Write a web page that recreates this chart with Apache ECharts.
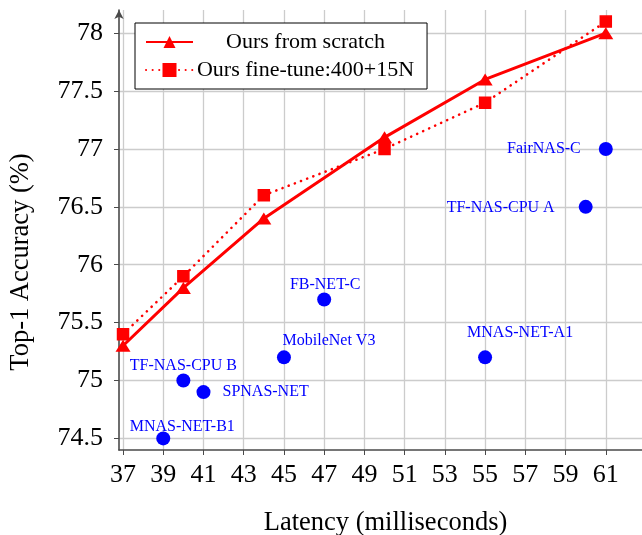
<!DOCTYPE html>
<html>
<head>
<meta charset="utf-8">
<script src="https://cdn.jsdelivr.net/npm/echarts@6/dist/echarts.min.js"></script>
<style>html,body{margin:0;padding:0;background:#fff}#c{width:642px;height:535px}</style>
</head>
<body>
<div id="c"></div>
<script>
// ---- data ----
const scratchX = [37, 40, 44, 50, 55, 61];
const scratchY = [75.3, 75.8, 76.4, 77.1, 77.6, 78.0];
const finetuneX = [37, 40, 44, 50, 55, 61];
const finetuneY = [75.4, 75.9, 76.6, 77.0, 77.4, 78.1];
const otherNames = ['MNAS-NET-B1', 'TF-NAS-CPU B', 'SPNAS-NET', 'MobileNet V3', 'FB-NET-C', 'MNAS-NET-A1', 'TF-NAS-CPU A', 'FairNAS-C'];
const otherX = [39, 40, 41, 45, 47, 55, 60, 61];
const otherY = [74.5, 75.0, 74.9, 75.2, 75.7, 75.2, 76.5, 77.0];
const xTicks = [37, 39, 41, 43, 45, 47, 49, 51, 53, 55, 57, 59, 61];
const yTicks = [74.5, 75, 75.5, 76, 76.5, 77, 77.5, 78];
const seriesNames = ['Ours from scratch', 'Ours fine-tune:400+15N'];

// ---- label placement (style only) ----
const labelPlace = {
  'MNAS-NET-B1':  {align: 'center', offset: [19, -12]},
  'TF-NAS-CPU B': {align: 'center', offset: [0, -15]},
  'SPNAS-NET':    {align: 'left',   offset: [19, 0]},
  'MobileNet V3': {align: 'center', offset: [45, -17]},
  'FB-NET-C':     {align: 'center', offset: [1, -15]},
  'MNAS-NET-A1':  {align: 'center', offset: [35, -25]},
  'TF-NAS-CPU A': {align: 'right',  offset: [-31, 1]},
  'FairNAS-C':    {align: 'right',  offset: [-25, 0]}
};

const serif = '"Liberation Serif", "DejaVu Serif", serif';
const red = '#ff0000';
const blue = '#0000ff';

const zip = (xs, ys) => xs.map((x, i) => [x, ys[i]]);

const chart = echarts.init(document.getElementById('c'), null, {renderer: 'canvas'});
chart.setOption({
  animation: false,
  backgroundColor: '#fff',
  grid: {left: 119, right: 0, top: 10, bottom: 85, containLabel: false, outerBoundsMode: 'none'},
  legend: {
    orient: 'vertical',
    left: 135, top: 23,
    padding: [8, 13, 8, 10],
    itemGap: 6,
    itemWidth: 47, itemHeight: 15,
    borderColor: '#000', borderWidth: 1,
    backgroundColor: '#fff',
    data: seriesNames,
    formatter: n => '{c|' + n + '}',
    textStyle: {
      rich: {c: {width: 215, align: 'center', fontSize: 22, fontFamily: serif, color: '#000', lineHeight: 22}}
    }
  },
  xAxis: {
    type: 'value',
    min: 36.8, max: 62.8,
    name: 'Latency (milliseconds)',
    nameLocation: 'middle',
    nameGap: 60,
    nameTextStyle: {fontSize: 26.5, fontFamily: serif, color: '#000', padding: [0, 0, 0, 10]},
    axisLine: {show: true, onZero: false, lineStyle: {color: '#4a4a4a', width: 1.6}},
    axisTick: {show: true, length: 5, customValues: xTicks, lineStyle: {color: '#4a4a4a', width: 1}},
    axisLabel: {customValues: xTicks, margin: 12, fontSize: 26, fontFamily: serif, color: '#000'},
    splitLine: {show: true, customValues: xTicks, lineStyle: {color: '#cccccc', width: 1.3}}
  },
  yAxis: {
    type: 'value',
    min: 74.4, max: 78.2,
    name: 'Top-1 Accuracy (%)',
    nameLocation: 'middle',
    nameGap: 84,
    nameTextStyle: {fontSize: 26.5, fontFamily: serif, color: '#000', padding: [0, 64, 0, 0]},
    axisLine: {show: true, onZero: false, symbol: ['none', 'arrow'], symbolSize: [7, 9], lineStyle: {color: '#4a4a4a', width: 1.6}},
    axisTick: {show: true, length: 5, customValues: yTicks, lineStyle: {color: '#4a4a4a', width: 1}},
    axisLabel: {customValues: yTicks, margin: 16, fontSize: 26, fontFamily: serif, color: '#000'},
    splitLine: {show: true, customValues: yTicks, lineStyle: {color: '#cccccc', width: 1.3}}
  },
  series: [
    {
      name: seriesNames[0],
      type: 'line',
      data: zip(scratchX, scratchY),
      symbol: 'triangle',
      symbolSize: [15, 12],
      lineStyle: {color: red, width: 3},
      itemStyle: {color: red, opacity: 1},
      z: 3
    },
    {
      name: seriesNames[1],
      type: 'line',
      data: zip(finetuneX, finetuneY),
      symbol: 'rect',
      symbolSize: 11,
      lineStyle: {color: red, width: 2.6, type: [0.1, 6.5], cap: 'round'},
      itemStyle: {color: red, borderColor: red, borderWidth: 1.5, opacity: 1},
      z: 3
    },
    {
      name: 'others',
      type: 'scatter',
      symbol: 'circle',
      symbolSize: 14,
      itemStyle: {color: blue, opacity: 1},
      data: otherNames.map((n, i) => ({
        name: n,
        value: [otherX[i], otherY[i]],
        label: {
          show: true,
          position: 'inside',
          formatter: n,
          align: labelPlace[n].align,
          verticalAlign: 'middle',
          offset: labelPlace[n].offset,
          color: blue,
          fontSize: 16,
          fontFamily: serif
        }
      })),
      z: 4
    }
  ]
});
</script>
</body>
</html>
